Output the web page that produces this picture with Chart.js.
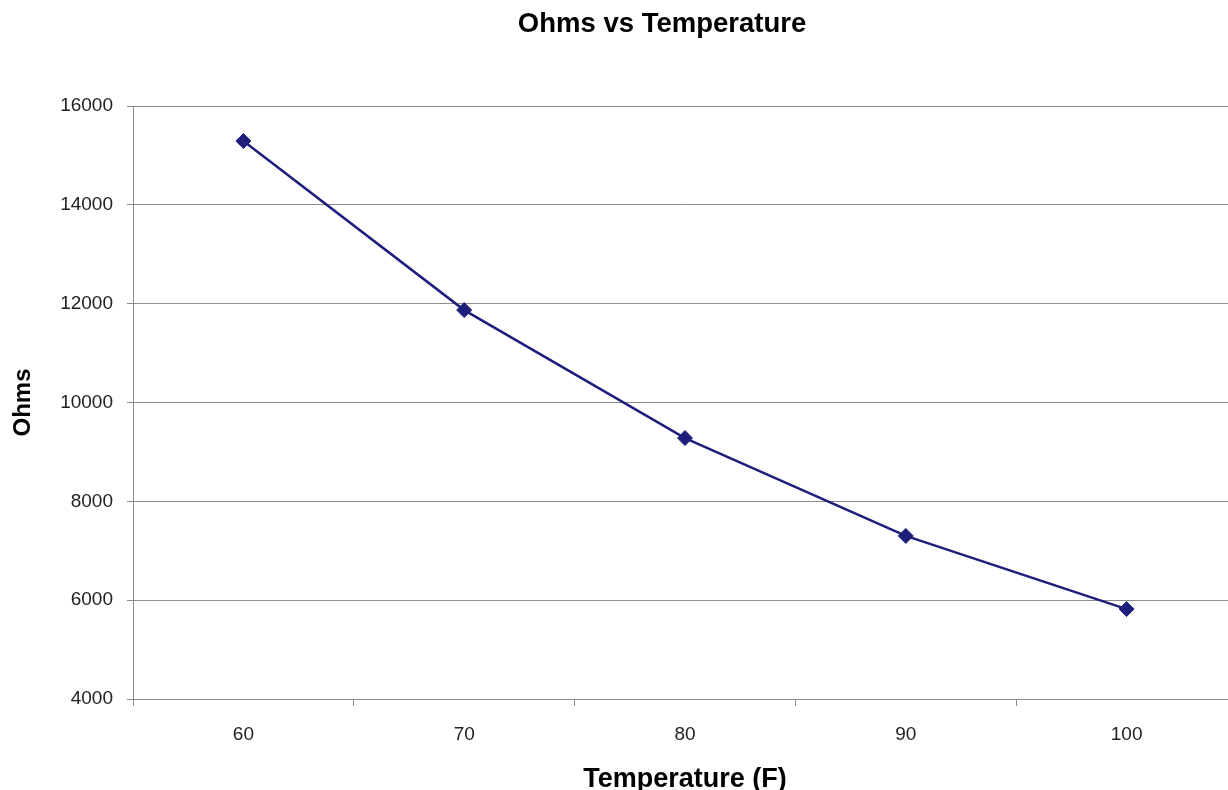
<!DOCTYPE html>
<html>
<head>
<meta charset="utf-8">
<script src="https://cdn.jsdelivr.net/npm/chart.js@4/dist/chart.umd.min.js"></script>
<style>
  html, body { margin: 0; padding: 0; background: #fff; overflow: hidden; }
  #wrap { width: 1324px; height: 790px; }
</style>
</head>
<body>
<div id="wrap"><canvas id="ohmsChart" width="1324" height="790"></canvas></div>
<script>
const temperatures = ["60", "70", "80", "90", "100"];
const ohms = [15290, 11870, 9280, 7300, 5820];
const yTicks = [4000, 6000, 8000, 10000, 12000, 14000, 16000];

const gridGray = "#8c8c8c";
const lineColor = "#1e1e7c";
const fontFamily = "'Liberation Sans', Arial, sans-serif";

const ctx = document.getElementById("ohmsChart").getContext("2d");
new Chart(ctx, {
  type: "line",
  data: {
    labels: temperatures,
    datasets: [{
      label: "Ohms",
      data: ohms,
      borderColor: lineColor,
      borderWidth: 2.5,
      backgroundColor: lineColor,
      pointStyle: "rectRot",
      pointRadius: 7.5,
      pointBorderWidth: 1,
      pointBorderColor: lineColor,
      pointBackgroundColor: lineColor,
      tension: 0
    }]
  },
  options: {
    responsive: false,
    animation: false,
    layout: { padding: 0 },
    plugins: {
      legend: { display: false },
      tooltip: { enabled: false },
      title: {
        display: true,
        text: "Ohms vs Temperature",
        color: "#000",
        font: { family: fontFamily, size: 27.5, weight: "bold", lineHeight: 1.2 },
        padding: { top: 8, bottom: 65 }
      }
    },
    scales: {
      x: {
        type: "category",
        offset: true,
        afterFit: s => { s.height = 91; },
        grid: {
          offset: true,
          drawOnChartArea: false,
          drawTicks: true,
          tickLength: 7,
          color: gridGray
        },
        border: { display: true, color: gridGray, width: 1 },
        ticks: {
          color: "#222",
          padding: 17,
          font: { family: fontFamily, size: 19 }
        },
        title: {
          display: true,
          text: "Temperature (F)",
          color: "#000",
          font: { family: fontFamily, size: 27, weight: "bold", lineHeight: 0.8 },
          padding: { top: 0, bottom: 0 }
        }
      },
      y: {
        min: 4000,
        max: 16000,
        afterFit: s => { s.width = 133; },
        afterBuildTicks: s => { s.ticks = yTicks.map(v => ({ value: v })); },
        grid: {
          color: gridGray,
          lineWidth: 1,
          drawTicks: true,
          tickLength: 6
        },
        border: { display: true, color: gridGray, width: 1 },
        ticks: {
          color: "#222",
          padding: 14,
          font: { family: fontFamily, size: 19 },
          callback: v => String(v)
        },
        title: {
          display: true,
          text: "Ohms",
          color: "#000",
          font: { family: fontFamily, size: 24, weight: "bold", lineHeight: 1.2 },
          padding: { top: 9, bottom: 0 }
        }
      },
      // empty right-hand spacer so the plot area ends off-screen like the original
      spacer: {
        type: "linear",
        position: "right",
        display: true,
        afterFit: s => { s.width = 87; },
        grid: { display: false },
        border: { display: false },
        ticks: { display: false }
      }
    }
  }
});
</script>
</body>
</html>
